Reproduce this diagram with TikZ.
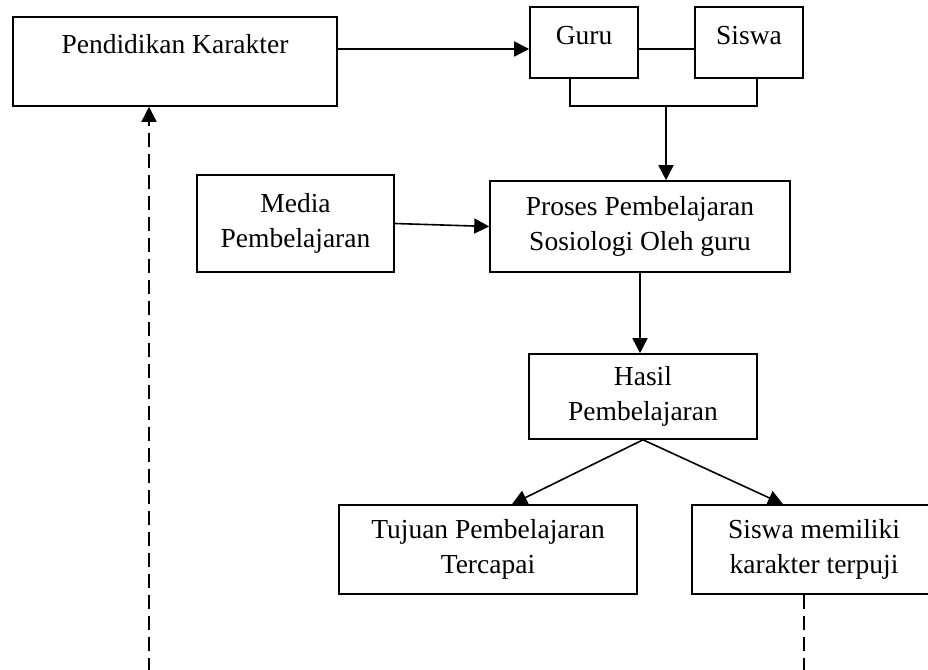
\documentclass[tikz,border=0pt]{standalone}
\usepackage{fontspec}
\setmainfont{Liberation Serif}
\usetikzlibrary{arrows.meta}

\begin{document}
\begin{tikzpicture}[x=1pt, y=-1pt, line width=1.6pt,
    >={Triangle[length=15pt, width=15pt]},
    kotak/.style={draw, rectangle, align=center, inner sep=0pt,
        font=\fontsize{27.5}{35}\selectfont},
    putus/.style={dash pattern=on 14pt off 7pt}]
    \useasboundingbox (0,0) rectangle (928,669);
    \clip (0,0) rectangle (928,669);
    \node [kotak, minimum width=324, minimum height=89, text height=19, text depth=34] (pk) at (175,61.5) {Pendidikan Karakter};
    \node [kotak, minimum width=108, minimum height=71, text height=19, text depth=15] (guru) at (584,42.5) {Guru};
    \node [kotak, minimum width=108, minimum height=71, text height=19, text depth=15] (siswa) at (749,42.5) {Siswa};
    \node [kotak, minimum width=197, minimum height=97] (media) at (295.5,223.5) {Media\\Pembelajaran};
    \node [kotak, minimum width=300, minimum height=91] (proses) at (640,226.5) {Proses Pembelajaran\\Sosiologi Oleh guru};
    \node [kotak, minimum width=228, minimum height=85] (hasil) at (643,396.5) {Hasil\\Pembelajaran};
    \node [kotak, minimum width=298, minimum height=89] (tujuan) at (488,549.5) {Tujuan Pembelajaran\\Tercapai};
    \node [kotak, minimum width=244, minimum height=89] (karakter) at (814,549.5) {Siswa memiliki\\karakter terpuji};
    \coordinate (garis) at (0,49);
    \coordinate (temu) at (666,106);
    \draw [->] (pk.east |- garis) -- (guru.west |- garis);
    \draw (guru.east |- garis) -- (siswa.west |- garis);
    \draw ([xshift=-14pt]guru.south) |- (temu) -| ([xshift=8pt]siswa.south);
    \draw [->] (temu) -- (temu |- proses.north);
    \draw [->] (media.east) -- (proses.west);
    \draw [->] (proses.south) -- (proses.south |- hasil.north);
    \draw [->] (hasil.south) -- ([xshift=24pt]tujuan.north);
    \draw [->] (hasil.south) -- ([xshift=-31pt]karakter.north);
    \draw [->, putus] ([xshift=-10pt]karakter.south) -- ++(0,110) -| ([xshift=-26pt]pk.south);
\end{tikzpicture}
\end{document}
